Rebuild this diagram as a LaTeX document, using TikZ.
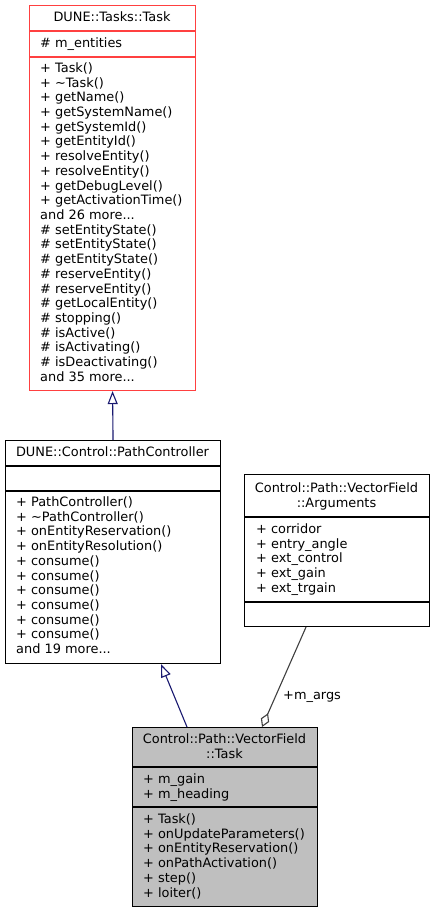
\documentclass[tikz,border=0pt]{standalone}
\usepackage{fontspec}
\setmainfont{DejaVu Sans}
\usetikzlibrary{arrows.meta}
\definecolor{navyline}{HTML}{191970}
\definecolor{taskred}{HTML}{FF4040}
\definecolor{aggline}{HTML}{404040}
\definecolor{boxgray}{HTML}{BFBFBF}
\newcommand{\mydots}{...}
\begin{document}
\begin{tikzpicture}[x=1pt,y=-1pt,
  box/.style={draw=black, line width=1.1pt, inner sep=0pt, anchor=north west},
  txt/.style={anchor=base west, inner sep=0pt, font=\fontsize{12.9}{14.7}\selectfont},
  ttl/.style={anchor=base, inner sep=0pt, font=\fontsize{12.9}{14.7}\selectfont},
  sep/.style={line width=1.1pt},
  inherit/.style={navyline, line width=1.1pt, -{Triangle[open, fill=white, length=13pt, width=10pt]}},
  aggr/.style={aggline, line width=1.1pt, {Diamond[open, fill=white, length=15pt, width=9pt]}-}]
\useasboundingbox (0,0) rectangle (434,912);

% DUNE::Tasks::Task
\node[box, draw=taskred, minimum width=166pt, minimum height=385pt] (task) at (29,5) {};
\draw[sep, taskred] (29,31) -- (195,31);
\draw[sep, taskred] (29,57) -- (195,57);
\node[ttl] (taskT) at (112,21.5) {DUNE::Tasks::Task};
\node[txt] (taskA) at (40,47.5) {\# m\_entities};
\foreach \t [count=\i from 0] in {{+ Task()}, {+ \textasciitilde Task()}, {+ getName()}, {+ getSystemName()}, {+ getSystemId()}, {+ getEntityId()}, {+ resolveEntity()}, {+ resolveEntity()}, {+ getDebugLevel()}, {+ getActivationTime()}, {and 26 more\mydots}, {\# setEntityState()}, {\# setEntityState()}, {\# getEntityState()}, {\# reserveEntity()}, {\# reserveEntity()}, {\# getLocalEntity()}, {\# stopping()}, {\# isActive()}, {\# isActivating()}, {\# isDeactivating()}, {and 35 more\mydots}}
  \node[txt] (taskM\i) at (40,72.5+14.7*\i) {\t};

% DUNE::Control::PathController
\node[box, minimum width=215pt, minimum height=223pt] (pc) at (5,440) {};
\draw[sep] (5,466) -- (220,466);
\draw[sep] (5,491) -- (220,491);
\node[ttl] (pcT) at (112.5,456.5) {DUNE::Control::PathController};
\foreach \t [count=\i from 0] in {{+ PathController()}, {+ \textasciitilde PathController()}, {+ onEntityReservation()}, {+ onEntityResolution()}, {+ consume()}, {+ consume()}, {+ consume()}, {+ consume()}, {+ consume()}, {+ consume()}, {and 19 more\mydots}}
  \node[txt] (pcM\i) at (16,506.5+14.7*\i) {\t};

% Control::Path::VectorField::Arguments
\node[box, minimum width=185pt, minimum height=152pt] (args) at (244,474) {};
\draw[sep] (244,517) -- (429,517);
\draw[sep] (244,602) -- (429,602);
\node[ttl] (argsT1) at (336.5,492.5) {Control::Path::VectorField};
\node[ttl] (argsT2) at (336.5,507.5) {::Arguments};
\foreach \t [count=\i from 0] in {{+ corridor}, {+ entry\_angle}, {+ ext\_control}, {+ ext\_gain}, {+ ext\_trgain}}
  \node[txt] (argsA\i) at (256,533.5+14.7*\i) {\t};

% Control::Path::VectorField::Task
\node[box, fill=boxgray, minimum width=185pt, minimum height=179pt] (vft) at (132,727) {};
\draw[sep] (132,767) -- (317,767);
\draw[sep] (132,807) -- (317,807);
\node[ttl] (vftT1) at (224.5,743.5) {Control::Path::VectorField};
\node[ttl] (vftT2) at (224.5,758.5) {::Task};
\node[txt] (vftA0) at (143,783.5) {+ m\_gain};
\node[txt] (vftA1) at (143,798.2) {+ m\_heading};
\foreach \t [count=\i from 0] in {{+ Task()}, {+ onUpdateParameters()}, {+ onEntityReservation()}, {+ onPathActivation()}, {+ step()}, {+ loiter()}}
  \node[txt] (vftM\i) at (143,823.5+14.7*\i) {\t};

% connectors
\draw[inherit] (pc.north) -- (task.south);
\draw[inherit] ([xshift=55pt]vft.north west) -- ([xshift=156pt]pc.south west);
\draw[aggr] ([xshift=130pt]vft.north west) -- ([xshift=62pt]args.south west);
\node[txt] (aggL) at (283,699.5) {+m\_args};
\end{tikzpicture}
\end{document}
